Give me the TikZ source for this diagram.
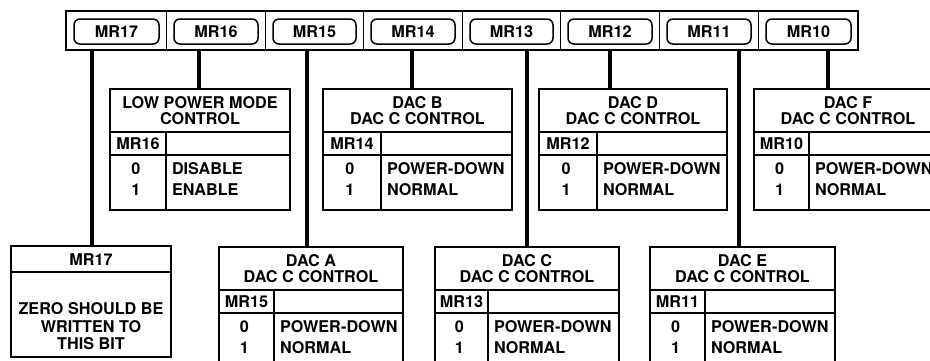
\documentclass[tikz,border=0pt]{standalone}
\usepackage{fontspec}
\setmainfont{TeX Gyre Heros}
\newcommand\rowzero{POWER-DOWN}
\newcommand\rowone{NORMAL}
% #1 name, #2 left, #3 top, #4 right, #5 column divider, #6 title line 1, #7 title line 2, #8 MR label
\newcommand\dactab[8]{%
  \node[tbox, minimum width={#4-#2}, minimum height=121] (#1) at ({(#2+#4)/2},{#3+60.5}) {};
  \draw[div] ({#2},{#3+43}) -- ({#4},{#3+43});
  \draw[div] ({#2},{#3+66}) -- ({#4},{#3+66});
  \draw[div] ({#5},{#3+43}) -- ({#5},{#3+121});
  \node[txt] (#1-t1) at ({(#2+#4)/2},{#3+14}) {#6};
  \node[txt] (#1-t2) at ({(#2+#4)/2},{#3+30}) {#7};
  \node[txt] (#1-mr) at ({(#2+#5)/2},{#3+55}) {#8};
  \node[txt] (#1-d0) at ({(#2+#5)/2-2},{#3+80}) {0};
  \node[txt] (#1-d1) at ({(#2+#5)/2-2},{#3+101}) {1};
  \node[txt,anchor=west] (#1-r0) at ({#5+6},{#3+80}) {\rowzero};
  \node[txt,anchor=west] (#1-r1) at ({#5+6},{#3+101}) {\rowone};
}
\tikzset{
  txt/.style={inner sep=0pt, outer sep=0pt, font=\fontsize{16.2pt}{16pt}\selectfont\bfseries},
  tbox/.style={draw, line width=1.8pt, inner sep=0pt, outer sep=0pt, fill=white},
  div/.style={line width=1.2pt},
  conn/.style={line width=3.2pt},
  cell/.style={draw, line width=1pt, inner sep=0pt, outer sep=0pt, minimum height=39},
  regbox/.style={draw, line width=1.5pt, rounded corners=6pt, inner sep=0pt, outer sep=0pt, minimum height=25,
    font=\fontsize{16.2pt}{16pt}\selectfont\bfseries},
}
\begin{document}
\begin{tikzpicture}[x=1pt,y=-1pt]
\useasboundingbox (0,0) rectangle (930,360);
\clip (0,0) rectangle (930,360);
\fill[white] (0,0) rectangle (930,360);
% register bar
\foreach \nm/\l/\r in {17/66/166,16/166/265,15/265/363,14/363/462,13/462/560,12/560/659,11/659/758,10/758/858}{
  \node[cell, minimum width={\r-\l}] (c\nm) at ({(\l+\r)/2},30.5) {};
  \node[regbox, minimum width={\r-\l-15}] (r\nm) at ({(\l+\r)/2+0.5},31.5) {MR\nm};
}
\node[draw, line width=2pt, inner sep=0pt, minimum width=792, minimum height=39] (bar) at (462,30.5) {};
% connector positions
\coordinate (x17) at (92,0);
\coordinate (x16) at (199,0);
\coordinate (x15) at (307,0);
\coordinate (x14) at (412,0);
\coordinate (x13) at (527,0);
\coordinate (x12) at (610,0);
\coordinate (x11) at (739,0);
\coordinate (x10) at (828,0);
% MR17 box
\node[tbox, minimum width=160, minimum height=111] (t17) at (91,301.5) {};
\draw[div] (11,272) -- (171,272);
\node[txt] (t17-t) at (91,260) {MR17};
\node[txt] (t17-a) at (91,309) {ZERO SHOULD BE};
\node[txt] (t17-b) at (91,327) {WRITTEN TO};
\node[txt] (t17-c) at (91,344) {THIS BIT};
% low power
\renewcommand\rowzero{DISABLE}
\renewcommand\rowone{ENABLE}
\dactab{t16}{110}{89}{290}{166}{LOW POWER MODE}{CONTROL}{MR16}
\renewcommand\rowzero{POWER-DOWN}
\renewcommand\rowone{NORMAL}
\dactab{t14}{323}{89}{512}{381}{DAC B}{DAC C CONTROL}{MR14}
\dactab{t12}{539}{89}{727}{597}{DAC D}{DAC C CONTROL}{MR12}
\dactab{t10}{754}{89}{942}{809}{DAC F}{DAC C CONTROL}{MR10}
\dactab{t15}{219}{247}{403}{274}{DAC A}{DAC C CONTROL}{MR15}
\dactab{t13}{435}{247}{619}{488}{DAC C}{DAC C CONTROL}{MR13}
\dactab{t11}{650}{247}{835}{705}{DAC E}{DAC C CONTROL}{MR11}
% connectors
\foreach \nm in {17,16,15,14,13,12,11,10}{
  \draw[conn] (bar.south -| x\nm) -- (t\nm.north -| x\nm);
}
\end{tikzpicture}
\end{document}
